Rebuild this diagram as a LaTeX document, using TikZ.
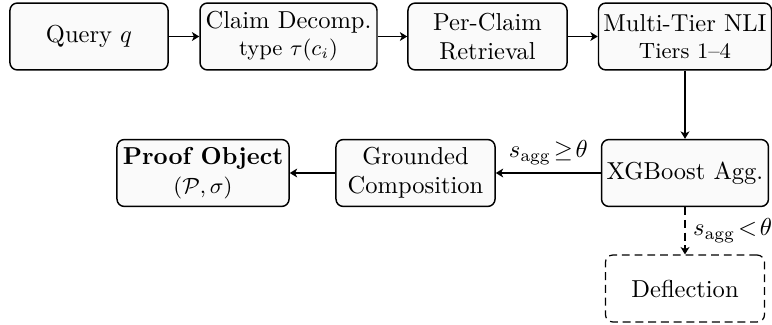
\documentclass[tikz,border=0pt]{standalone}
\usepackage{amsmath}
\usetikzlibrary{arrows.meta}
\begin{document}
\begin{tikzpicture}[x=0.408pt,y=-0.408pt,
  stage/.style={draw, rounded corners=3pt, fill=gray!4, line width=0.6pt,
    align=center, inner sep=1pt, minimum height=27.3pt},
  branch/.style={stage, fill=white, line width=0.5pt, dash pattern=on 3.2pt off 2pt},
  flow/.style={-{Stealth[length=3pt,width=3.6pt,inset=0.8pt]}, line width=0.65pt},
  lbl/.style={inner sep=3pt}
]
\useasboundingbox (0,0) rectangle (772,324);

% top row: the retrieval and verification pipeline
\node[stage, minimum width=64.5pt] (q)   at (89,36.5)    {Query $q$};
\node[stage, minimum width=72.2pt] (cd)  at (288.5,36.5) {Claim Decomp.\\[-1pt]{\small type $\tau(c_i)$}};
\node[stage, minimum width=64.9pt] (pr)  at (487.5,36.5) {Per-Claim\\Retrieval};
\node[stage, minimum width=70.6pt] (nli) at (685,36.5)   {Multi-Tier NLI\\[-1pt]{\small Tiers 1--4}};

% bottom row: aggregation and outputs
\node[stage, minimum width=68.1pt] (xgb) at (685,173)    {XGBoost Agg.};
\node[stage, minimum width=64.9pt] (gc)  at (415.5,173)  {Grounded\\Composition};
\node[stage, minimum width=70.2pt] (po)  at (203,173)    {\textbf{Proof Object}\\{\small $(\mathcal{P},\sigma)$}};
\node[branch, minimum width=64.9pt] (df) at (685,288.5)  {Deflection};

% connectors
\draw[flow] (q) -- (cd);
\draw[flow] (cd) -- (pr);
\draw[flow] (pr) -- (nli);
\draw[flow] (nli) -- (xgb);
\draw[flow] (xgb) -- node[lbl, above] {$s_{\mathrm{agg}}\mskip2mu{\geq}\mskip2mu\theta$} (gc);
\draw[flow] (gc) -- (po);
\draw[flow, dash pattern=on 3.2pt off 2pt] (xgb) -- node[lbl, right] {$s_{\mathrm{agg}}\mskip2mu{<}\mskip2mu\theta$} (df);
\end{tikzpicture}
\end{document}
